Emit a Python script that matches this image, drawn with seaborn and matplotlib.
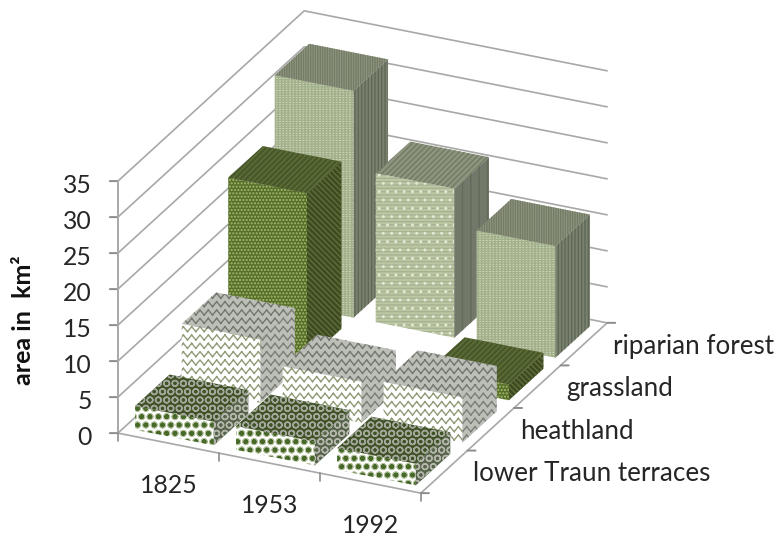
import matplotlib
matplotlib.use('Agg')
import matplotlib.hatch as mhatch
import matplotlib.pyplot as plt
import numpy as np
import seaborn as sns
from matplotlib.path import Path
from mpl_toolkits.mplot3d import proj3d
from mpl_toolkits.mplot3d.art3d import Poly3DCollection

# Data
years = ['1825', '1953', '1992']
series = ['lower Traun terraces', 'heathland', 'grassland', 'riparian forest']
lower_traun = [3.3, 3.3, 3.0]
heathland = [8.8, 5.7, 6.3]
grassland = [23.2, 0, 2.2]
riparian = [31.5, 20.7, 15.5]
z_ticks = [0, 5, 10, 15, 20, 25, 30, 35]


class ZigZag(mhatch.HatchPatternBase):
    # Excel's wave pattern has no matplotlib hatch, so '*' is taken over for it.
    # Separate segments, because Agg also fills a hatch path.
    def __init__(self, hatch, density):
        self.rows = hatch.count('*') * density
        self.num_vertices = self.rows * self.rows * 4

    def set_vertices_and_codes(self, vertices, codes):
        segs = 2 * self.rows
        xs = np.linspace(0, 1, segs + 1)
        wave = 0.025 * (-1.0) ** np.arange(segs + 1)
        k = 0
        for r in range(self.rows):
            ys = (r + 0.5) / self.rows + wave
            for s in range(segs):
                vertices[k] = xs[s], ys[s]
                vertices[k + 1] = xs[s + 1], ys[s + 1]
                codes[k] = Path.MOVETO
                codes[k + 1] = Path.LINETO
                k += 2


mhatch._hatch_types = [t for t in mhatch._hatch_types if t is not mhatch.Stars] + [ZigZag]

sns.set_theme(style='white')
plt.rcParams['font.family'] = ['Lato', 'DejaVu Sans']
plt.rcParams['hatch.linewidth'] = 1.0

# (face colour, hatch, hatch colour) for front, right side and top of a bar,
# 'over' is a second hatch laid on the front face
clear = '#ffffff00'
brick = {'front': ('#cdd7b8', '-' * 7 + '|' * 5, '#a3b08c'),
         'side': ('#7b8370', '|' * 5, '#5f6756'),
         'top': ('#8f9780', '|' * 7, '#747b66')}
dots = {'front': ('#bcc8a4', '-' * 5, '#a6b292'),
        'over': (clear, '..', '#e2e8d4'),
        'side': ('#72796a', '|' * 2, '#646b5a'),
        'top': ('#8d957e', '/' * 6, '#737a64')}
styles = [
    {'front': ('#ffffff', 'OO', '#b3c29c'),
     'over': (clear, '..oo', '#46692a'),
     'side': ('#56644a', 'OO', '#b4b6ae'),
     'top': ('#3f5326', 'OO', '#a4a79c')},
    {'front': ('#ffffff', '**', '#8f9c76'),
     'side': ('#bcbeb8', '**', '#7c7f76'),
     'top': ('#bcbeb8', '**', '#74776e')},
    {'front': ('#566f2b', '.' * 5, '#a6ba6c'),
     'side': ('#3d4a22', '\\' * 6, '#5f6f38'),
     'top': ('#48582a', '/' * 6, '#5f7038')},
    brick,
]
values = [lower_traun, heathland, grassland, riparian]

bar_w = 0.78
bar_d = 0.74
grid_col = '#a8a8a8'
text_col = '#262626'

fig = plt.figure(figsize=(7.79, 5.37), dpi=100)
ax = fig.add_axes([95.5 / 779, 18 / 537, 520 / 779, 520 / 537], projection='3d', computed_zorder=False)
ax.set_proj_type('ortho')
ax.view_init(elev=25.18, azim=-65.04)
ax.set_box_aspect((334.2, 441.5, 278.5), zoom=1.157)
ax.set_xlim(0, 3, view_margin=0)
ax.set_ylim(0, 4, view_margin=0)
ax.set_zlim(0, 35, view_margin=0)
ax.set_xticks([])
ax.set_yticks([])
ax.set_zticks([])
ax.set_axis_off()


def add_face(corners, style, order):
    fc, hatch, hc = style
    poly = Poly3DCollection([corners], facecolor=fc, edgecolor=hc, hatch=hatch, linewidth=0, zorder=order)
    ax.add_collection3d(poly)


def add_bar(x, y, h, style, order):
    x1, y1 = x + bar_w, y + bar_d
    front = [(x, y, 0), (x1, y, 0), (x1, y, h), (x, y, h)]
    add_face(front, style['front'], order)
    if 'over' in style:
        add_face(front, style['over'], order + 0.05)
    add_face([(x1, y, 0), (x1, y1, 0), (x1, y1, h), (x1, y, h)], style['side'], order + 0.1)
    add_face([(x, y, h), (x1, y, h), (x1, y1, h), (x, y1, h)], style['top'], order + 0.2)


def add_label(x, y, z, s, size, ha):
    # project by hand so the label is a plain 2D text at its real place
    px, py, _ = proj3d.proj_transform(x, y, z, ax.get_proj())
    ax.text2D(px, py, s, transform=ax.transData, ha=ha, va='center', fontsize=size, color=text_col)


# walls and axis lines
for z in z_ticks:
    ax.plot([0, 0, 3], [0, 4, 4], [z, z, z], color=grid_col, lw=1.2, zorder=1)
    ax.plot([-0.08, 0], [0, 0], [z - 0.22, z], color='#8c8c8c', lw=1.4, zorder=1)
    add_label(-0.257, 0, z - 1.3, str(z), 17.8, 'right')
ax.plot([0, 0], [0, 0], [0, 35], color=grid_col, lw=1.4, zorder=1)
ax.plot([0, 3, 3], [0, 0, 4], [0, 0, 0], color=grid_col, lw=1.2, zorder=1)
for i in range(4):
    ax.plot([i, i], [0, 0], [0, -1.1], color='#8c8c8c', lw=1.2, zorder=1)
for i in range(5):
    ax.plot([3, 3.08], [i, i], [0, 0.22], color='#8c8c8c', lw=1.4, zorder=1)

# bars, back row first and left to right, so nearer ones paint over
order = 3
for row in range(3, -1, -1):
    for col in range(3):
        if values[row][col] > 0:
            style = dots if (row == 3 and col == 1) else styles[row]
            add_bar(col + (1 - bar_w) / 2, row + (1 - bar_d) / 2, values[row][col], style, order)
        order += 1

for col, year in enumerate(years):
    add_label(col + 0.5, 0, -5.85, year, 17.8, 'center')
for row, name in enumerate(series):
    add_label(3.287, row + 0.5, 0.5, name, 18.7, 'left')

ax.set_xlim(0, 3, view_margin=0)
ax.set_ylim(0, 4, view_margin=0)
ax.set_zlim(0, 35, view_margin=0)

fig.text(24 / 779, 1 - 320 / 537, 'area in  km²', rotation=90, ha='center', va='center',
         fontsize=18, fontweight='bold', color='#111111')

fig.savefig('out.png', dpi=100)
